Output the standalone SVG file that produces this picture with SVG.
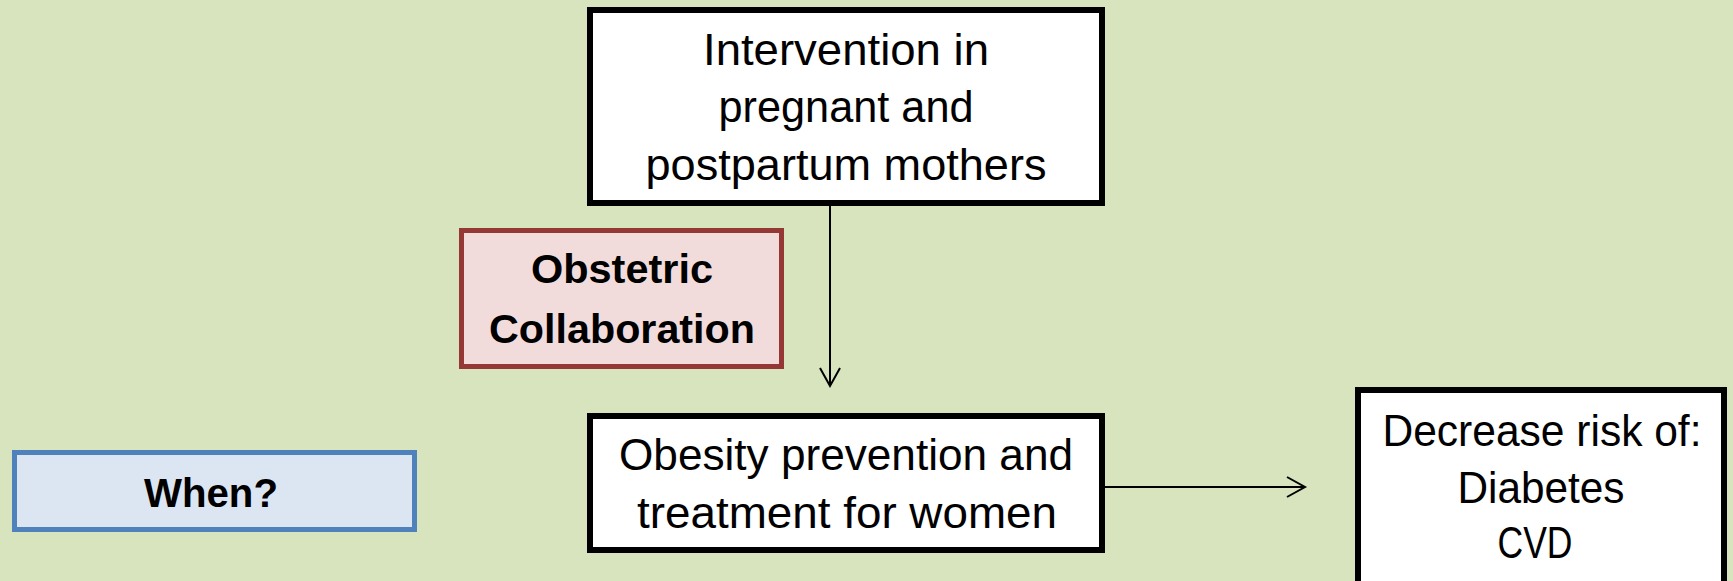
<svg xmlns="http://www.w3.org/2000/svg" width="1733" height="581" viewBox="0 0 1733 581">
  <style>
    .box { fill: #FFFFFF; stroke: #000000; stroke-width: 6; }
    .red { fill: #F2DCDB; stroke: #953735; stroke-width: 5; }
    .blue { fill: #DCE6F2; stroke: #4F81BD; stroke-width: 5; }
    .t { font-family: "Liberation Sans", Arial, sans-serif; font-size: 45px; fill: #000; text-anchor: middle; }
    .b { font-family: "Liberation Sans", Arial, sans-serif; font-size: 41px; font-weight: bold; fill: #000; text-anchor: middle; }
    .conn { stroke: #000; stroke-width: 2; fill: none; }
  </style>
  <defs>
    <marker id="arrow" markerUnits="userSpaceOnUse" markerWidth="24" markerHeight="24" viewBox="-20 -12 24 24" refX="0" refY="0" orient="auto">
      <path d="M -18 -10 L 0 0 L -18 10" fill="none" stroke="#000" stroke-width="2"/>
    </marker>
  </defs>
  <rect x="0" y="0" width="1733" height="581" fill="#D7E4BD"/>

  <g id="connectors">
    <line class="conn" x1="830" y1="206" x2="830" y2="386" marker-end="url(#arrow)"/>
    <line class="conn" x1="1105" y1="487" x2="1305" y2="487" marker-end="url(#arrow)"/>
  </g>

  <g id="node-intervention">
    <rect class="box" x="590" y="10" width="512" height="193"/>
    <text class="t" x="846" y="65" textLength="286" lengthAdjust="spacingAndGlyphs">Intervention in</text>
    <text class="t" x="846" y="122" textLength="255" lengthAdjust="spacingAndGlyphs">pregnant and</text>
    <text class="t" x="846" y="180" textLength="401" lengthAdjust="spacingAndGlyphs">postpartum mothers</text>
  </g>

  <g id="node-obstetric">
    <rect class="red" x="461.5" y="230.5" width="320" height="136"/>
    <text class="b" x="622" y="283" textLength="182" lengthAdjust="spacingAndGlyphs">Obstetric</text>
    <text class="b" x="622" y="343" textLength="266" lengthAdjust="spacingAndGlyphs">Collaboration</text>
  </g>

  <g id="node-when">
    <rect class="blue" x="14.5" y="452.5" width="400" height="77"/>
    <text class="b" x="211" y="507" textLength="134" lengthAdjust="spacingAndGlyphs">When?</text>
  </g>

  <g id="node-obesity">
    <rect class="box" x="590" y="416" width="512" height="134"/>
    <text class="t" x="846" y="470" textLength="454" lengthAdjust="spacingAndGlyphs">Obesity prevention and</text>
    <text class="t" x="847" y="528" textLength="420" lengthAdjust="spacingAndGlyphs">treatment for women</text>
  </g>

  <g id="node-decrease">
    <rect class="box" x="1358" y="390" width="366" height="250"/>
    <text class="t" x="1542" y="446" textLength="319" lengthAdjust="spacingAndGlyphs">Decrease risk of:</text>
    <text class="t" x="1541" y="503" textLength="167" lengthAdjust="spacingAndGlyphs">Diabetes</text>
    <text class="t" x="1535" y="558" textLength="75" lengthAdjust="spacingAndGlyphs">CVD</text>
  </g>
</svg>
